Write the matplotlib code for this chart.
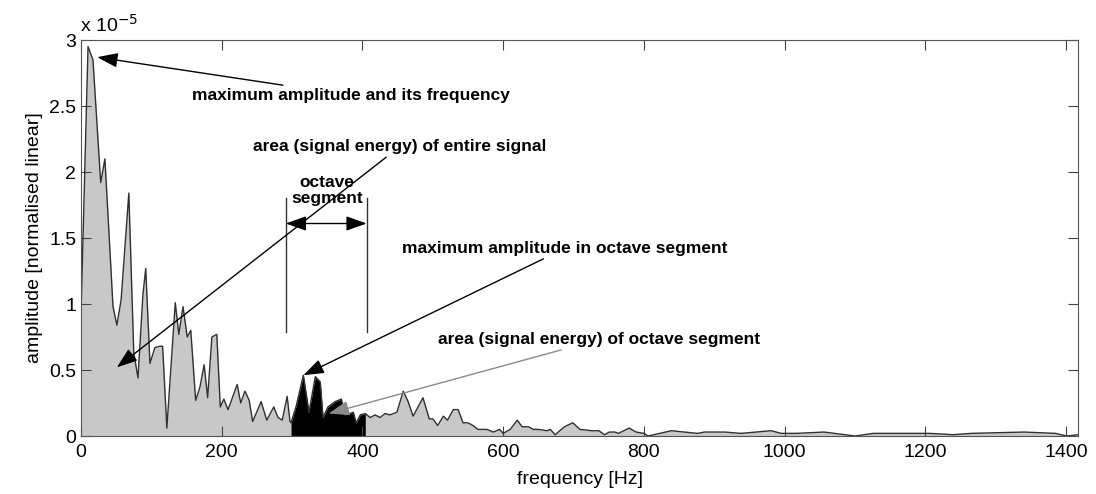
import numpy as np
import matplotlib.pyplot as plt

plt.rcParams['font.family'] = ['Liberation Sans', 'DejaVu Sans']

# spectrum (amplitude in units of 1e-5)
freq = [0, 10, 17, 28, 34, 45.5, 51, 57, 68, 75, 81, 88, 92, 98, 105, 112, 116, 122,
        134, 139, 145, 151, 156, 163, 169, 175, 180, 186, 193, 198, 203, 209, 222, 227,
        233, 239, 244, 256, 264, 274, 280, 286, 293, 297, 298.5, 306, 316, 324, 333,
        340, 344, 351, 361, 370, 375, 382, 387, 391, 397, 404, 411, 418, 425, 432, 439,
        449, 458, 465, 472, 479, 486, 495, 500, 507, 515, 521, 529, 536, 543, 550, 557,
        564, 577, 586, 595, 600, 610, 620, 627, 636, 643, 650, 662, 667, 674, 687, 699,
        709, 726, 736, 744, 751, 759, 764, 779, 789, 800, 806, 839, 876, 886, 915, 938,
        981, 995, 1016, 1056, 1100, 1126, 1166, 1206, 1240, 1265, 1340, 1385, 1401, 1418]
amp = [0.92, 2.95, 2.85, 1.92, 2.10, 0.98, 0.84, 1.03, 1.84, 0.63, 0.44, 1.07, 1.27, 0.55,
       0.67, 0.68, 0.68, 0.06, 1.01, 0.77, 0.98, 0.75, 0.80, 0.27, 0.37, 0.54, 0.29, 0.75,
       0.77, 0.22, 0.28, 0.20, 0.39, 0.25, 0.34, 0.27, 0.11, 0.26, 0.12, 0.22, 0.14, 0.12,
       0.30, 0.11, 0.10, 0.23, 0.46, 0.18, 0.45, 0.41, 0.14, 0.22, 0.26, 0.28, 0.16, 0.17,
       0.18, 0.10, 0.16, 0.17, 0.14, 0.16, 0.14, 0.17, 0.16, 0.18, 0.34, 0.26, 0.15, 0.22,
       0.29, 0.13, 0.13, 0.08, 0.15, 0.12, 0.20, 0.20, 0.10, 0.10, 0.08, 0.05, 0.05, 0.03,
       0.05, 0.02, 0.05, 0.12, 0.07, 0.07, 0.05, 0.05, 0.04, 0.05, 0.01, 0.07, 0.10, 0.05,
       0.04, 0.04, 0.01, 0.03, 0.03, 0.02, 0.06, 0.03, 0.02, 0.00, 0.04, 0.02, 0.03, 0.03,
       0.02, 0.04, 0.02, 0.02, 0.03, 0.00, 0.02, 0.02, 0.02, 0.01, 0.02, 0.03, 0.02, 0.00,
       0.01]

seg_lo, seg_hi = 298.5, 404

freq = np.array(freq)
amp = np.array(amp)

fig = plt.figure(figsize=(10.96, 4.94), dpi=100)
ax = fig.add_axes([0.0739, 0.1174, 0.9097, 0.8016])

# whole spectrum in grey, octave segment in black
ax.fill_between(freq, amp, color='#c8c8c8', lw=0)
in_seg = (freq >= seg_lo) & (freq <= seg_hi)
ax.fill_between(freq, amp, where=in_seg, color='black', lw=0)
ax.plot(freq, amp, color='#303030', lw=1)

ax.set_xlim(0, 1417)
ax.set_ylim(0, 3)
ax.set_xticks(range(0, 1401, 200))
ax.set_yticks([0, 0.5, 1, 1.5, 2, 2.5, 3])
ax.set_yticklabels(['0', '0.5', '1', '1.5', '2', '2.5', '3'])
ax.tick_params(direction='in', length=7, top=True, right=True, labelsize=14, color='#444')
ax.tick_params(axis='x', pad=6)
for s in ax.spines.values():
    s.set_color('#555')
ax.set_xlabel('frequency [Hz]', fontsize=14, labelpad=7)
ax.set_ylabel('amplitude [normalised linear]', fontsize=14, labelpad=4)
fig.text(0.073, 0.935, r'x 10$^{-5}$', fontsize=14)

bold = dict(fontsize=12.5, fontweight='bold', va='center', ha='left')
head = dict(arrowstyle='-|>,head_length=0.9,head_width=0.32', color='black', lw=1,
            mutation_scale=14, shrinkA=0, shrinkB=0)

# annotations
ax.annotate('maximum amplitude and its frequency', xy=(23, 2.87), xytext=(158, 2.58),
            arrowprops=head, **bold)
ax.annotate('area (signal energy) of entire signal', xy=(51, 0.52), xytext=(244, 2.19),
            arrowprops=head, **bold)
ax.annotate('maximum amplitude in octave segment', xy=(316, 0.46), xytext=(456, 1.42),
            arrowprops=head, **bold)
grey_head = dict(head, color='#8a8a8a')
ax.annotate('area (signal energy) of octave segment', xy=(352, 0.17), xytext=(507, 0.73),
            arrowprops=grey_head, **bold)

ax.text(350, 1.86, 'octave\nsegment', fontsize=12.5, fontweight='bold', ha='center',
        va='center', linespacing=1.1)
ax.plot([291, 291], [0.79, 1.80], color='#333', lw=1)
ax.plot([406, 406], [0.79, 1.80], color='#333', lw=1)
ax.annotate('', xy=(291, 1.61), xytext=(406, 1.61),
            arrowprops=dict(arrowstyle='<|-|>,head_length=0.9,head_width=0.32', color='black',
                            lw=1, mutation_scale=14, shrinkA=0, shrinkB=0))

fig.savefig('out.png', dpi=100)
